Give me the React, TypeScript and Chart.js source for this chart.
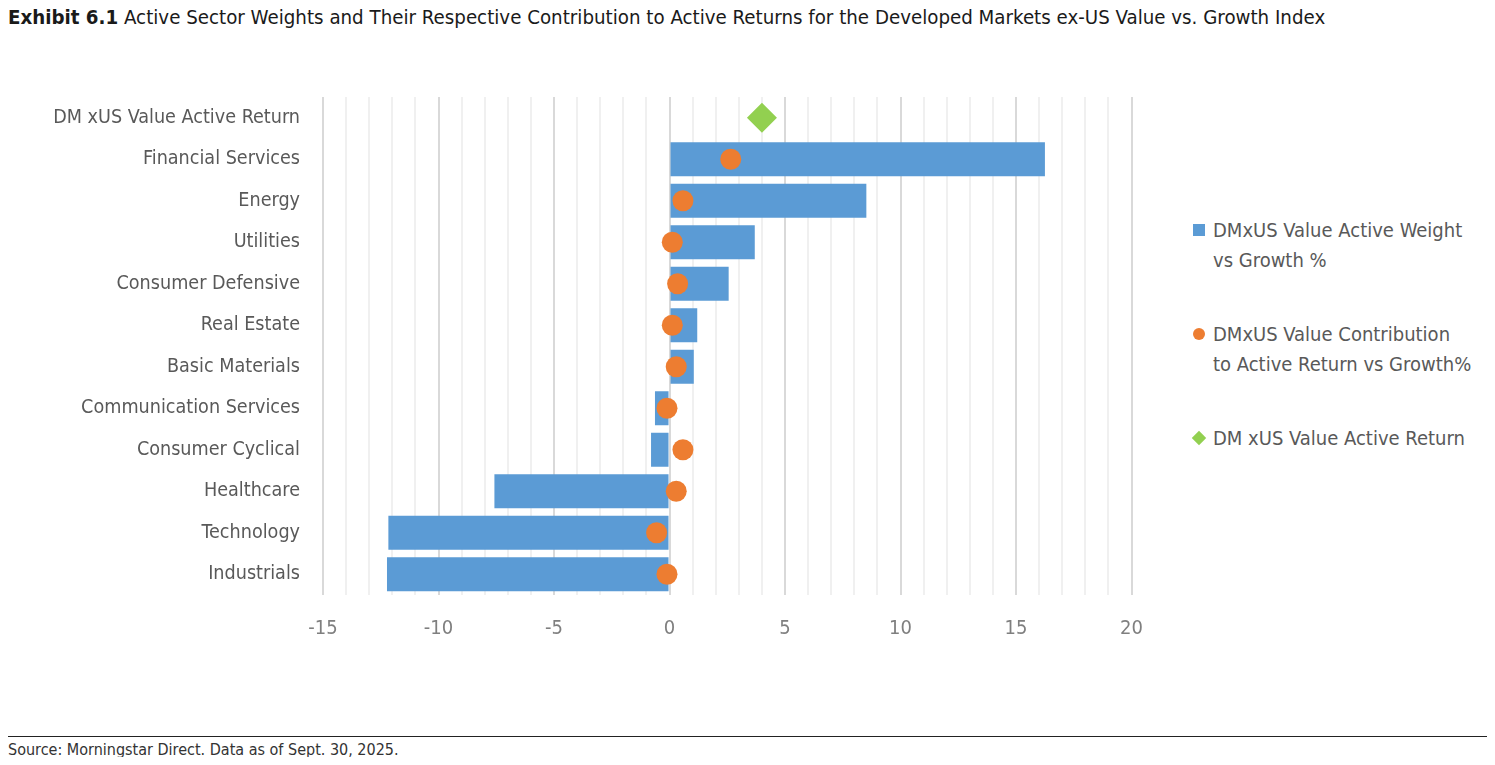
import React, { useEffect, useRef } from "react";
import { Chart, registerables } from "chart.js";

Chart.register(...registerables);

const categories = [
  "DM xUS Value Active Return",
  "Financial Services",
  "Energy",
  "Utilities",
  "Consumer Defensive",
  "Real Estate",
  "Basic Materials",
  "Communication Services",
  "Consumer Cyclical",
  "Healthcare",
  "Technology",
  "Industrials",
];

const activeWeight = [null, 16.25, 8.52, 3.69, 2.56, 1.2, 1.05, -0.63, -0.8, -7.58, -12.17, -12.23];
const contribution = [null, 2.65, 0.58, 0.12, 0.35, 0.12, 0.29, -0.11, 0.58, 0.29, -0.56, -0.11];
const activeReturn = [4.0, null, null, null, null, null, null, null, null, null, null, null];

const xMin = -15;
const xMax = 20;
const xStep = 1;
const labelEvery = 5;

const FONT = '"Liberation Sans Narrow", "DejaVu Sans Condensed", "Roboto Condensed", sans-serif';

const legendItems = [
  { lines: ["DMxUS Value Active Weight", "vs Growth %"], color: "#5B9BD5", shape: "square" },
  { lines: ["DMxUS Value Contribution", "to Active Return vs Growth%"], color: "#ED7D31", shape: "circle" },
  { lines: ["DM xUS Value Active Return"], color: "#92D050", shape: "diamond" },
];

export default function App() {
  const canvasRef = useRef<HTMLCanvasElement | null>(null);

  useEffect(() => {
    const ctx = canvasRef.current;
    if (!ctx) return;
    const chart = new Chart(ctx, {
      type: "bar",
      data: {
        labels: categories,
        datasets: [
          {
            type: "line",
            label: "DM xUS Value Active Return",
            data: activeReturn as any,
            indexAxis: "y",
            showLine: false,
            pointStyle: "rectRot",
            pointRadius: 15,
            pointBackgroundColor: "#92D050",
            pointBorderWidth: 0,
            backgroundColor: "#92D050",
            borderColor: "#92D050",
            order: 0,
          } as any,
          {
            type: "line",
            label: "DMxUS Value Contribution to Active Return vs Growth%",
            data: contribution as any,
            indexAxis: "y",
            showLine: false,
            pointStyle: "circle",
            pointRadius: 10.5,
            pointBackgroundColor: "#ED7D31",
            pointBorderWidth: 0,
            backgroundColor: "#ED7D31",
            borderColor: "#ED7D31",
            order: 1,
          } as any,
          {
            type: "bar",
            label: "DMxUS Value Active Weight vs Growth %",
            data: activeWeight as any,
            backgroundColor: "#5B9BD5",
            borderWidth: 0,
            barPercentage: 0.82,
            categoryPercentage: 1,
            order: 2,
          } as any,
        ],
      },
      options: {
        indexAxis: "y",
        animation: false,
        responsive: false,
        maintainAspectRatio: false,
        layout: { padding: { top: 37, right: 19, left: 0, bottom: 0 } },
        plugins: {
          legend: { display: false },
          tooltip: { enabled: false },
          title: { display: false },
        },
        scales: {
          x: {
            type: "linear",
            min: xMin,
            max: xMax,
            afterFit: (scale: any) => {
              scale.height = 105;
            },
            ticks: {
              stepSize: xStep,
              autoSkip: false,
              maxRotation: 0,
              padding: 22,
              color: "#7F7F7F",
              font: { family: FONT, size: 20 },
              callback: (v: any) => (Number(v) % labelEvery === 0 ? String(v) : ""),
            },
            grid: {
              drawTicks: false,
              color: (c: any) => (c.tick && c.tick.value % labelEvery === 0 ? "#D9D9D9" : "#F0F0F0"),
              lineWidth: 2,
            },
            border: { display: false },
          },
          y: {
            type: "category",
            afterFit: (scale: any) => {
              scale.width = 315;
            },
            ticks: {
              padding: 23,
              color: "#595959",
              font: { family: FONT, size: 19.6 },
            },
            grid: { display: false, drawTicks: false },
            border: { display: false },
          },
        },
      },
    });
    return () => chart.destroy();
  }, []);

  return (
    <div style={{ position: "relative", width: 1479, height: 749, fontFamily: FONT }}>
      <div style={{ position: "absolute", left: 0, top: -1, fontSize: 20.3, color: "#1A1A1A", whiteSpace: "nowrap", lineHeight: "20px" }}>
        <b>Exhibit 6.1</b> Active Sector Weights and Their Respective Contribution to Active Returns for the Developed Markets ex-US Value vs. Growth Index
      </div>
      <canvas ref={canvasRef} width={1157} height={640} style={{ position: "absolute", left: 0, top: 52, width: 1157, height: 640 }} />
      <div style={{ position: "absolute", left: 1185, top: 0 }}>
        {legendItems.map((it, i) => (
          <div key={i} style={{ position: "absolute", left: 0, top: [207, 311, 415][i], whiteSpace: "nowrap" }}>
            <div
              style={{
                position: "absolute",
                left: 0,
                top: 9,
                width: 12,
                height: 12,
                background: it.color,
                borderRadius: it.shape === "circle" ? "50%" : 0,
                transform: it.shape === "diamond" ? "rotate(45deg) scale(0.85)" : undefined,
              }}
            />
            <div style={{ position: "absolute", left: 20, top: 0, fontSize: 20, lineHeight: "30px", color: "#595959" }}>
              {it.lines.map((l, j) => (
                <div key={j}>{l}</div>
              ))}
            </div>
          </div>
        ))}
      </div>
      <div style={{ position: "absolute", left: 0, top: 728, width: 1485, borderTop: "1.5px solid #222" }} />
      <div style={{ position: "absolute", left: 0, top: 733, fontSize: 16, lineHeight: "18px", color: "#333", whiteSpace: "nowrap" }}>
        Source: Morningstar Direct. Data as of Sept. 30, 2025.
      </div>
    </div>
  );
}
